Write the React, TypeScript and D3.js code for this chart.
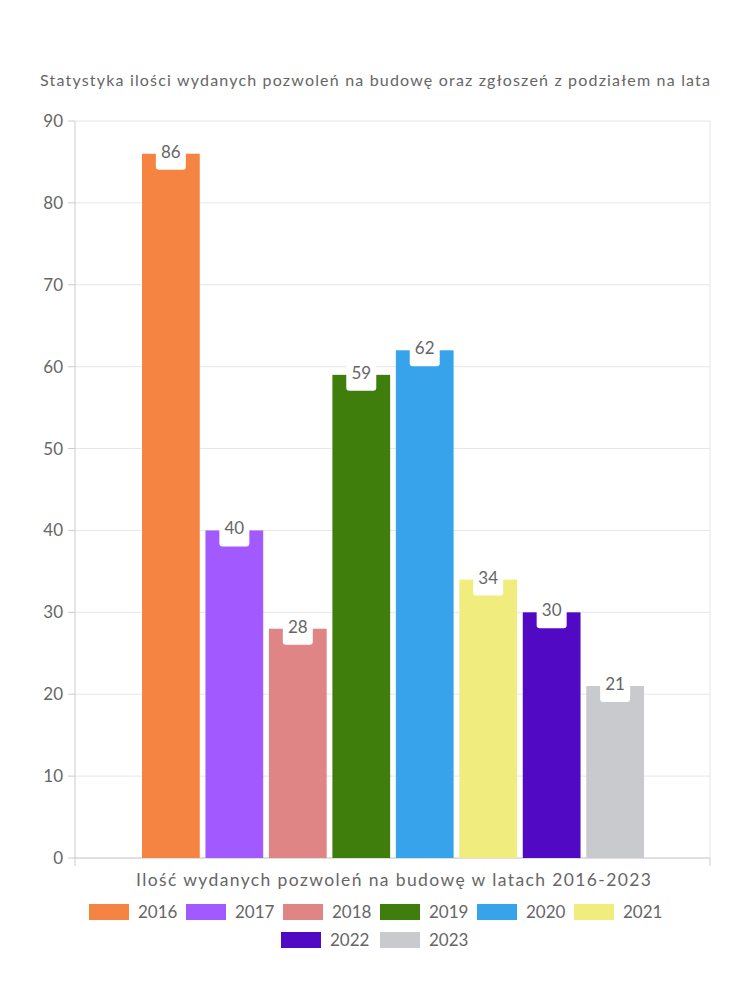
import React from "react";
import * as d3 from "d3";

const years = ["2016", "2017", "2018", "2019", "2020", "2021", "2022", "2023"];
const values = [86, 40, 28, 59, 62, 34, 30, 21];
const colors = ["#f58442", "#a259ff", "#e08585", "#3f7d0c", "#37a3ea", "#f0ec7d", "#5209c4", "#c9cacd"];
const yTicks = [0, 10, 20, 30, 40, 50, 60, 70, 80, 90];
const title = "Statystyka ilości wydanych pozwoleń na budowę oraz zgłoszeń z podziałem na lata";
const xTitle = "Ilość wydanych pozwoleń na budowę w latach 2016-2023";

const W = 750, H = 1000;
const L = 75, R = 710, T = 121, B = 858;
const font = "Lato, 'Noto Sans', sans-serif";
const textColor = "#666666";

export default function App() {
  const y = d3.scaleLinear().domain([0, 90]).range([B, T]);
  const x = d3.scaleBand().domain(years).range([142, 644]).paddingInner(0.09).paddingOuter(0);
  const legendRow1 = years.slice(0, 6);
  const legendRow2 = years.slice(6);
  const pitch = 97;
  return (
    <svg width={W} height={H} style={{ position: "absolute", left: 0, top: 0 }} fontFamily={font}>
      <rect width={W} height={H} fill="#fff" />
      <text x={40} y={86} fontSize={16} fill={textColor} textLength={670} lengthAdjust="spacing">{title}</text>
      {yTicks.map((t) => (
        <g key={t}>
          <line x1={L} x2={R} y1={y(t)} y2={y(t)} stroke="#e6e6e6" />
          <line x1={68} x2={L} y1={y(t)} y2={y(t)} stroke="#ccc" />
          <text x={63} y={y(t) + 6} textAnchor="end" fontSize={17} fill={textColor}>{t}</text>
        </g>
      ))}
      <line x1={L} x2={L} y1={T} y2={B} stroke="#ccc" />
      <line x1={R} x2={R} y1={T} y2={B} stroke="#e6e6e6" />
      <line x1={L} x2={R} y1={B} y2={B} stroke="#ccc" />
      <line x1={L} x2={L} y1={B} y2={B + 8} stroke="#ccc" />
      <line x1={R} x2={R} y1={B} y2={B + 8} stroke="#ccc" />
      {years.map((yr, i) => {
        const bx = x(yr)!;
        const bw = x.bandwidth();
        const top = y(values[i]);
        const cx = bx + bw / 2;
        return (
          <g key={yr}>
            <rect x={bx} y={top} width={bw} height={B - top} fill={colors[i]} />
            <rect x={cx - 15} y={top - 10} width={30} height={26} rx={3} fill="#fff" />
            <text x={cx} y={top + 4} textAnchor="middle" fontSize={17} fill={textColor}>{values[i]}</text>
          </g>
        );
      })}
      <text x={136} y={886} fontSize={17.5} fill={textColor} textLength={515} lengthAdjust="spacing">{xTitle}</text>
      {legendRow1.map((yr, i) => {
        const sx = 89 + i * pitch;
        return (
          <g key={yr}>
            <rect x={sx} y={904} width={40} height={16} fill={colors[i]} />
            <text x={sx + 49} y={918} fontSize={17} fill={textColor}>{yr}</text>
          </g>
        );
      })}
      {legendRow2.map((yr, j) => {
        const i = j + 6;
        const sx = 281 + j * 99;
        return (
          <g key={yr}>
            <rect x={sx} y={932} width={40} height={16} fill={colors[i]} />
            <text x={sx + 49} y={946} fontSize={17} fill={textColor}>{yr}</text>
          </g>
        );
      })}
    </svg>
  );
}
